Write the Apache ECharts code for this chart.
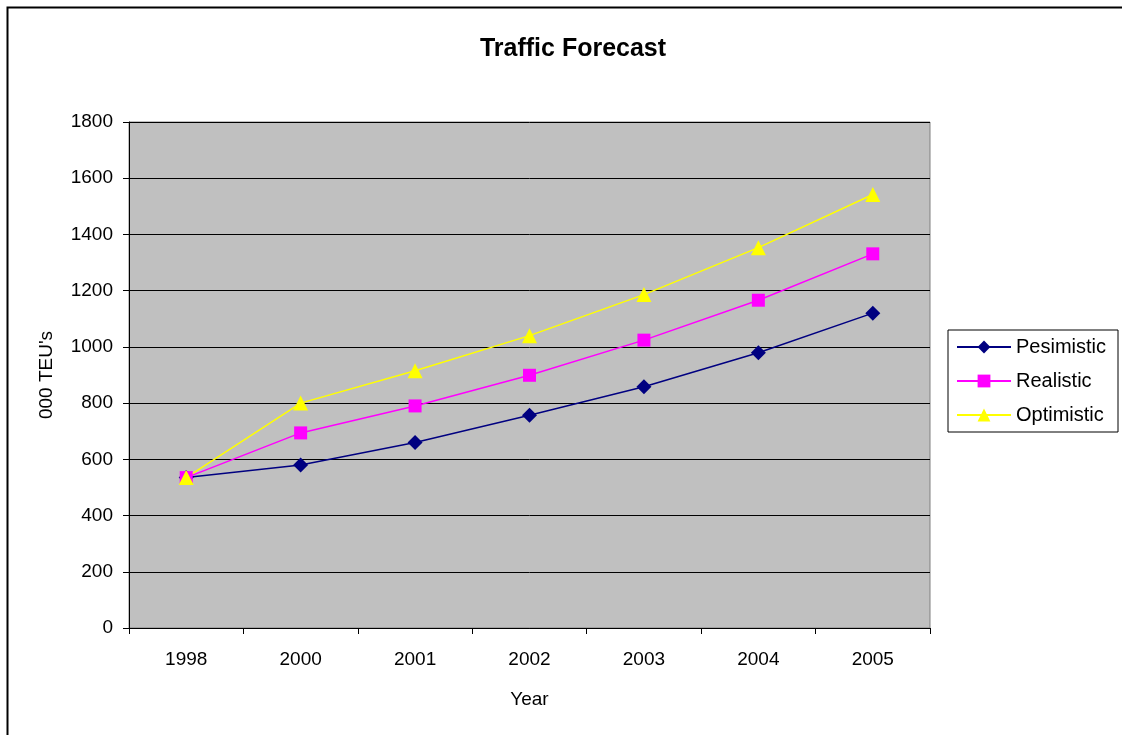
<!DOCTYPE html>
<html>
<head>
<meta charset="utf-8">
<style>
  html, body { margin: 0; padding: 0; background: #fff; }
  #chart { width: 1122px; height: 735px; }
</style>
<script src="https://cdn.jsdelivr.net/npm/echarts@6/dist/echarts.min.js"></script>
</head>
<body>
<div id="chart"></div>
<script>
// Forecast years and throughput scenarios (thousand TEU)
const years = ['1998', '2000', '2001', '2002', '2003', '2004', '2005'];
const pesimistic = [535, 580, 660, 757, 858, 979, 1120];
const realistic = [535, 694, 790, 899, 1024, 1166, 1331];
const optimistic = [535, 800, 915, 1040, 1186, 1353, 1542];

const FONT = '"Liberation Sans", Arial, sans-serif';

const chart = echarts.init(document.getElementById('chart'), null, { renderer: 'canvas' });

function lineSeries(name, data, color, symbol, size) {
  return {
    name: name,
    type: 'line',
    data: data,
    symbol: symbol,
    symbolSize: size,
    lineStyle: { color: color, width: 1.5 },
    itemStyle: { color: color, borderWidth: 0 },
    emphasis: { disabled: true },
    animation: false,
    z: 3
  };
}

chart.setOption({
  backgroundColor: '#ffffff',
  animation: false,
  title: {
    text: 'Traffic Forecast',
    left: 568,
    textAlign: 'center',
    top: 32,
    textStyle: { fontFamily: FONT, fontSize: 25, fontWeight: 'bold', color: '#000' }
  },
  grid: {
    left: 129,
    right: 1122 - 930,
    top: 122,
    bottom: 735 - 628,
    show: true,
    backgroundColor: '#c0c0c0',
    borderColor: '#808080',
    borderWidth: 1
  },
  legend: {
    orient: 'vertical',
    left: 948,
    top: 330,
    padding: [7, 12, 7, 8],
    itemGap: 14,
    itemWidth: 54,
    itemHeight: 16,
    backgroundColor: '#ffffff',
    borderColor: '#000000',
    borderWidth: 1,
    textStyle: { fontFamily: FONT, fontSize: 20, color: '#000' },
    data: ['Pesimistic', 'Realistic', 'Optimistic']
  },
  xAxis: {
    type: 'category',
    data: years,
    boundaryGap: true,
    name: 'Year',
    nameLocation: 'middle',
    nameGap: 62,
    nameTextStyle: { fontFamily: FONT, fontSize: 19, color: '#000' },
    axisLine: { lineStyle: { color: '#000', width: 1 } },
    axisTick: { show: true, inside: false, length: 6, lineStyle: { color: '#000' } },
    axisLabel: { fontFamily: FONT, fontSize: 19, color: '#000', margin: 22 },
    splitLine: { show: false }
  },
  yAxis: {
    type: 'value',
    min: 0,
    max: 1800,
    interval: 200,
    name: "000 TEU's",
    nameLocation: 'middle',
    nameRotate: 90,
    nameGap: 73,
    nameTextStyle: { fontFamily: FONT, fontSize: 19, color: '#000' },
    axisLine: { show: true, lineStyle: { color: '#000', width: 1 } },
    axisTick: { show: true, inside: false, length: 6, lineStyle: { color: '#000' } },
    axisLabel: {
      fontFamily: FONT, fontSize: 19, color: '#000', margin: 16,
      formatter: function (v) { return String(v); }
    },
    splitLine: { show: true, lineStyle: { color: '#000', width: 1 } }
  },
  graphic: [{
    type: 'rect',
    shape: { x: 7.5, y: 7.5, width: 1300, height: 900 },
    style: { fill: null, stroke: '#000', lineWidth: 2 },
    silent: true,
    z: 100
  }],
  series: [
    lineSeries('Pesimistic', pesimistic, '#000080', 'diamond', 15),
    lineSeries('Realistic', realistic, '#ff00ff', 'rect', 13),
    lineSeries('Optimistic', optimistic, '#ffff00', 'triangle', 15)
  ]
});
</script>
</body>
</html>
